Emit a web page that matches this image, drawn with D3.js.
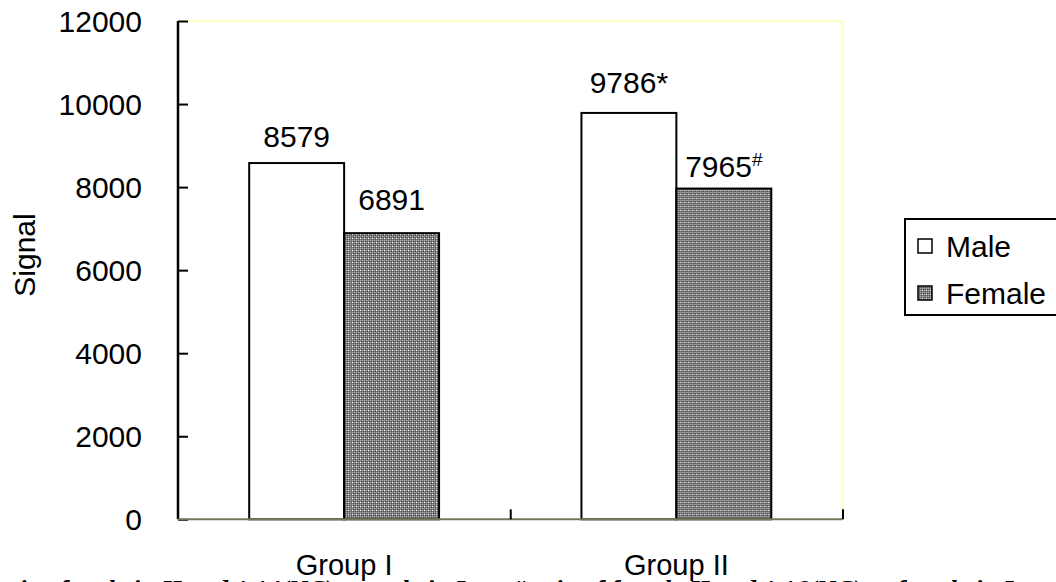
<!DOCTYPE html>
<html>
<head>
<meta charset="utf-8">
<script src="https://cdn.jsdelivr.net/npm/d3@7"></script>
<style>
  html, body { margin: 0; padding: 0; background: #fff; overflow: hidden; }
  svg { display: block; }
  text { font-family: Arial, "Liberation Sans", sans-serif; fill: #000; }
</style>
</head>
<body>
<svg id="chart" width="1056" height="582"></svg>
<script>
// Signal by group and sex
const groups = ["Group I", "Group II"];
const series = ["Male", "Female"];
const maleValues = [8579, 9786];
const femaleValues = [6891, 7965];
// marks appended to the value labels (significance notes)
const maleMarks = ["", "*"];
const femaleMarks = ["", "#"];
// vertical gap between each label baseline and its bar top, in px
const maleLabelGap = [16, 20];
const femaleLabelGap = [23, 12];
const yTicks = [0, 2000, 4000, 6000, 8000, 10000, 12000];
const yLabel = "Signal";
const captionParts = [
  "*ratio of male in II and 1.14(NC) vs male in I",
  "#ratio of female II and 1.16(NC) vs female in I"
];

const svg = d3.select("#chart");

// plot frame
const plotL = 178, plotR = 842.5, plotT = 21, plotB = 519.3;

const x = d3.scaleBand().domain(groups).range([plotL, plotR]).paddingInner(0).paddingOuter(0);
const xs = d3.scaleBand().domain(series).range([0, x.bandwidth()]).paddingInner(0).paddingOuter(0.75);
const y = d3.scaleLinear().domain([0, 12000]).range([plotB, plotT]);

// dithered grey fill for the Female series
const defs = svg.append("defs");
const pat = defs.append("pattern")
  .attr("id", "dither").attr("patternUnits", "userSpaceOnUse")
  .attr("width", 4).attr("height", 4);
pat.append("rect").attr("width", 4).attr("height", 4).attr("fill", "#7c7c7c");
[[0,0,"#a8a8a8"],[2,0,"#a8a8a8"],[1,1,"#555"],[3,1,"#555"],[0,2,"#a8a8a8"],[2,2,"#ffffff"],[1,3,"#555"],[3,3,"#555"]]
  .forEach(([px, py, c]) => pat.append("rect").attr("x", px).attr("y", py).attr("width", 1).attr("height", 1).attr("fill", c));

// plot area border (top and right in pale yellow)
svg.append("path")
  .attr("d", `M${plotL},${plotT}H${plotR}V${plotB}`)
  .attr("fill", "none").attr("stroke", "#ffffc0").attr("stroke-width", 2);

// bars
const rows = groups.map((g, i) => ({
  group: g,
  items: [
    { s: "Male", v: maleValues[i], mark: maleMarks[i], gap: maleLabelGap[i] },
    { s: "Female", v: femaleValues[i], mark: femaleMarks[i], gap: femaleLabelGap[i] }
  ]
}));

const gGroups = svg.selectAll("g.grp").data(rows).join("g")
  .attr("class", "grp")
  .attr("transform", d => `translate(${x(d.group)},0)`);

gGroups.selectAll("rect").data(d => d.items).join("rect")
  .attr("x", d => xs(d.s))
  .attr("y", d => y(d.v))
  .attr("width", xs.bandwidth())
  .attr("height", d => y(0) - y(d.v))
  .attr("fill", d => d.s === "Male" ? "#ffffff" : "url(#dither)")
  .attr("stroke", "#000").attr("stroke-width", 2);

// value labels
const lab = gGroups.selectAll("text.val").data(d => d.items).join("text")
  .attr("class", "val")
  .attr("x", d => xs(d.s) + xs.bandwidth() / 2)
  .attr("y", d => y(d.v) - d.gap)
  .attr("text-anchor", "middle")
  .style("font-size", "30px");
lab.append("tspan").text(d => d.v);
lab.filter(d => d.mark === "#").append("tspan")
  .attr("dy", -11).style("font-size", "19px").text(d => d.mark);
lab.filter(d => d.mark === "*").append("tspan").text(d => d.mark);

// y axis
const yAxis = d3.axisLeft(y).tickValues(yTicks).tickSize(-10).tickPadding(36).tickFormat(d3.format("d"));
const gy = svg.append("g").attr("transform", `translate(${plotL},0)`).call(yAxis);
gy.select(".domain").attr("stroke", "#000").attr("stroke-width", 2.5)
  .attr("d", `M0,${plotT}V${plotB}`);
gy.selectAll(".tick line").attr("stroke", "#000").attr("stroke-width", 2);
gy.selectAll(".tick text").style("font-size", "30px").attr("font-family", null).attr("dy", "0.35em");

// x axis: ticks between categories, pointing inward
const xEdges = [plotL].concat(groups.map(g => x(g) + x.bandwidth()));
const xLin = d3.scaleLinear().domain([0, xEdges.length - 1]).range([plotL, plotR]);
const xAxis = d3.axisBottom(xLin).tickValues(d3.range(xEdges.length)).tickSize(-10).tickFormat("");
const gx = svg.append("g").attr("transform", `translate(0,${plotB})`).call(xAxis);
gx.select(".domain").attr("stroke", "#77775e").attr("stroke-width", 2).attr("d", `M${plotL},0H${plotR}`);
gx.selectAll(".tick line").attr("stroke", "#000").attr("stroke-width", 2);
gx.selectAll(".tick").filter(d => d === 0).remove();

// caption line, cut by the bottom edge (drawn first so the group labels sit on top)
const capFont = sel => sel
  .style("font-family", "'Liberation Serif', 'Times New Roman', serif")
  .style("font-style", "italic").style("font-weight", "bold").style("font-size", "26px");
svg.append("text").attr("x", -24).attr("y", 598).call(capFont).text(captionParts[0]);
svg.append("text").attr("x", 512).attr("y", 598).call(capFont).text(captionParts[1]);

// category labels
svg.selectAll("text.cat").data(groups).join("text")
  .attr("class", "cat")
  .attr("x", d => x(d) + x.bandwidth() / 2)
  .attr("y", 575)
  .attr("text-anchor", "middle")
  .style("font-size", "29px")
  .text(d => d);

// y axis title
svg.append("text")
  .attr("transform", "translate(35,255) rotate(-90)")
  .attr("text-anchor", "middle")
  .style("font-size", "30px")
  .text(yLabel);

// legend
const lg = svg.append("g");
lg.append("rect").attr("x", 905).attr("y", 219).attr("width", 170).attr("height", 96)
  .attr("fill", "#fff").attr("stroke", "#000").attr("stroke-width", 2);
series.forEach((s, i) => {
  const yy = 239 + i * 47;
  lg.append("rect").attr("x", 918).attr("y", yy).attr("width", 14).attr("height", 14)
    .attr("fill", s === "Male" ? "#fff" : "url(#dither)")
    .attr("stroke", "#000").attr("stroke-width", 1.5);
  lg.append("text").attr("x", 946).attr("y", yy + 18).style("font-size", "30px").text(s);
});
</script>
</body>
</html>
